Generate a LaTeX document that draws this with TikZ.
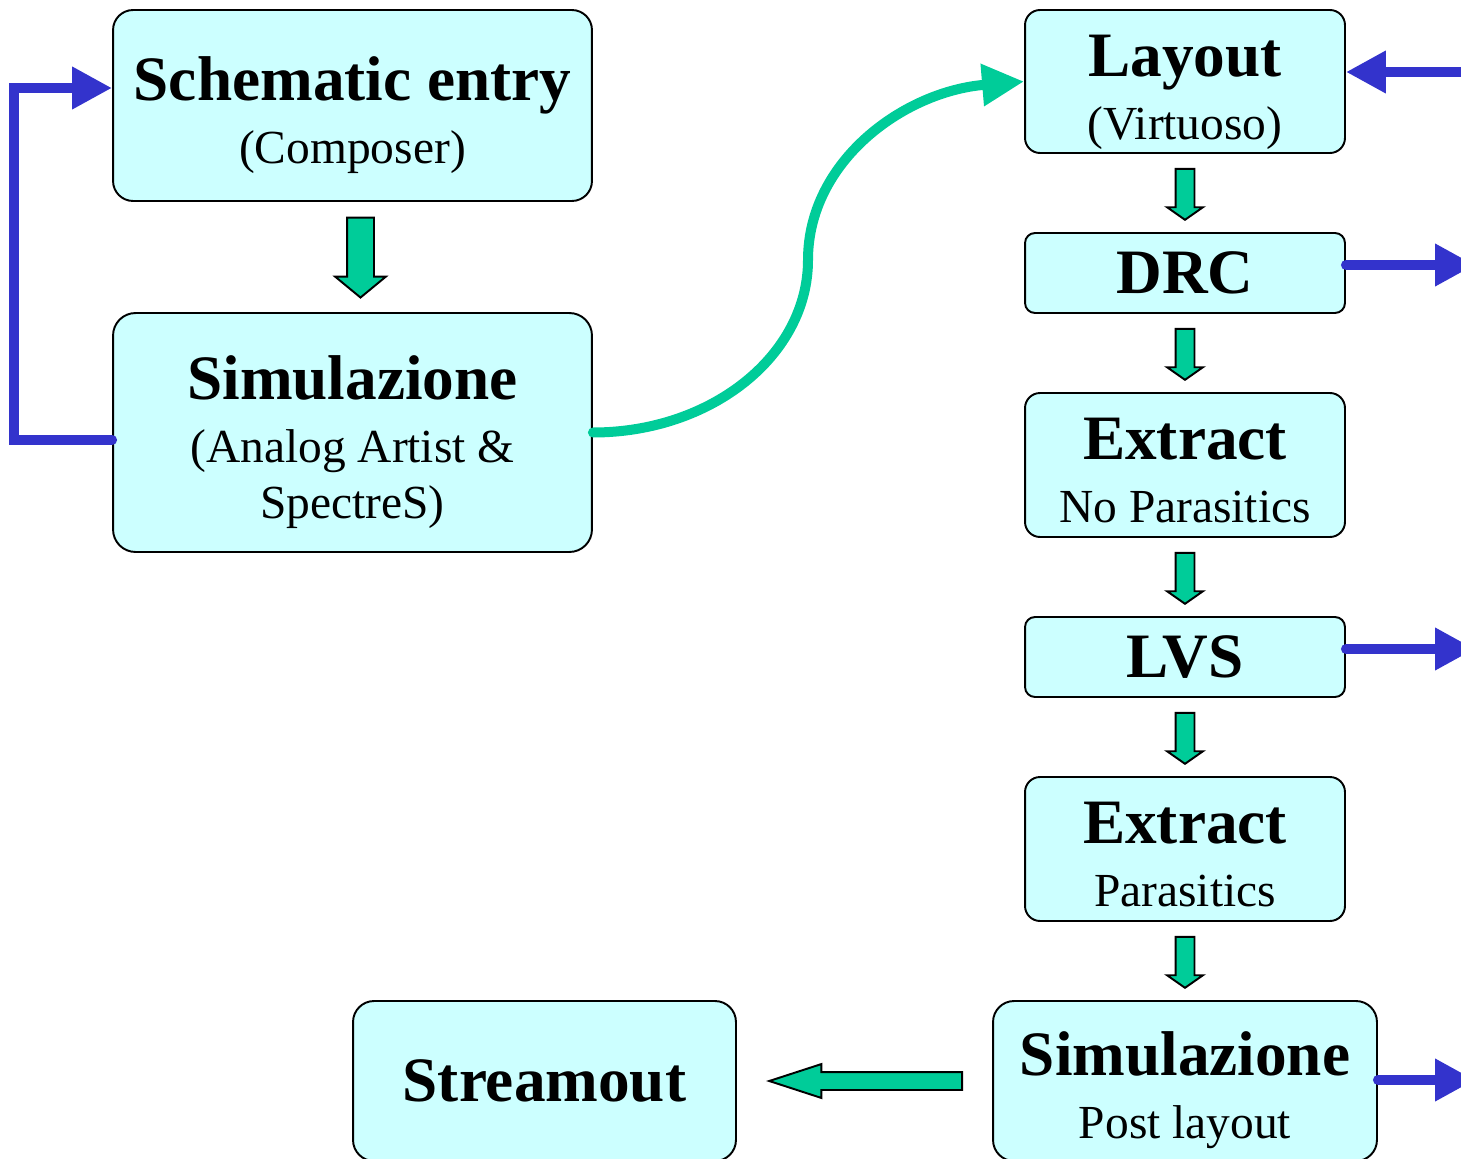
\documentclass[tikz,border=0pt]{standalone}
\usepackage{fontspec}
\setmainfont{Liberation Serif}
\usepackage{xcolor}
\usetikzlibrary{arrows.meta,calc,shapes.arrows}

\definecolor{boxcyan}{HTML}{CCFFFF}
\definecolor{flowgreen}{HTML}{00CC99}
\definecolor{loopblue}{HTML}{3333CC}

\newcommand{\ttl}[1]{{\fontsize{36}{40}\selectfont\bfseries\rule{0pt}{36pt}#1}}
\newcommand{\dsc}{\rule[-6pt]{0pt}{6pt}}

\tikzset{
  stage/.style={draw=black, line width=1.1pt, fill=boxcyan, align=center,
    inner sep=0pt, font=\fontsize{27}{32}\selectfont},
  flowarr/.style={single arrow, draw=black, line width=1.1pt, fill=flowgreen,
    inner sep=0pt},
  flowsmall/.style={flowarr, rotate=-90, minimum height=1.02cm, inner ysep=0.17cm,
    single arrow head extend=0.17cm, single arrow tip angle=110},
  fbline/.style={loopblue, line width=0.2cm, line cap=round,
    -{Triangle[length=0.8cm,width=0.8cm]}},
}

\begin{document}
\begin{tikzpicture}[x=0.02cm,y=-0.02cm]
\useasboundingbox (0,0) rectangle (1461,1159);
\clip (0,0) rectangle (1461,1159);

% left column
\node[stage, minimum width=9.58cm, minimum height=3.82cm, rounded corners=0.4cm] (sch) at (352.5,105.5)
  {\ttl{Schematic entry}\\[4pt] (Composer)\dsc};
\node[stage, minimum width=9.58cm, minimum height=4.78cm, rounded corners=0.45cm] (sim) at (352.5,432.5)
  {\ttl{Simulazione}\\[4pt] (Analog Artist \&\\ SpectreS)\dsc};

% right column
\node[stage, minimum width=6.4cm, minimum height=2.86cm, rounded corners=0.3cm] (lay) at (1185,81.5)
  {\ttl{Layout}\\[4pt] (Virtuoso)\dsc};
\node[stage, minimum width=6.4cm, minimum height=1.6cm, rounded corners=0.2cm] (drc) at (1185,273)
  {\fontsize{36}{40}\selectfont\bfseries DRC};
\node[stage, minimum width=6.4cm, minimum height=2.88cm, rounded corners=0.3cm] (ext1) at (1185,465)
  {\ttl{Extract}\\[4pt] No Parasitics\dsc};
\node[stage, minimum width=6.4cm, minimum height=1.6cm, rounded corners=0.2cm] (lvs) at (1185,657)
  {\fontsize{36}{40}\selectfont\bfseries LVS};
\node[stage, minimum width=6.4cm, minimum height=2.88cm, rounded corners=0.3cm] (ext2) at (1185,849)
  {\ttl{Extract}\\[4pt] Parasitics\dsc};
\node[stage, minimum width=7.68cm, minimum height=3.2cm, rounded corners=0.42cm] (spost) at (1185,1081)
  {\ttl{Simulazione}\\[4pt] Post layout\dsc};
\node[stage, minimum width=7.66cm, minimum height=3.2cm, rounded corners=0.42cm] (strm) at (544.5,1081)
  {\fontsize{36}{40}\selectfont\bfseries Streamout};

% green block arrows
\node[flowarr, rotate=-90, minimum height=1.6cm, inner ysep=0.25cm,
  single arrow head extend=0.24cm, single arrow tip angle=101]
  (a0) at ($(sch.south)!.5!(sim.north)+(8,-5)$) {};
\node[flowsmall] (a1) at ($(lay.south)!.5!(drc.north)+(0,-2)$) {};
\node[flowsmall] (a2) at ($(drc.south)!.5!(ext1.north)+(0,-2)$) {};
\node[flowsmall] (a3) at ($(ext1.south)!.5!(lvs.north)+(0,-2)$) {};
\node[flowsmall] (a4) at ($(lvs.south)!.5!(ext2.north)+(0,-2)$) {};
\node[flowsmall] (a5) at ($(ext2.south)!.5!(spost.north)+(0,-2)$) {};
\node[flowarr, rotate=180, minimum height=3.86cm, inner ysep=0.16cm,
  single arrow head extend=0.16cm, single arrow tip angle=36]
  (a6) at ($(strm.east)!.5!(spost.west)+(15,0)$) {};

% green curve
\coordinate (bend) at (808,260);
\draw[flowgreen, line width=0.2cm, line cap=round, -{Triangle[length=0.84cm,width=0.8cm]}]
  (sim.east) .. controls +(119,0) and +(0,95) .. (bend)
  .. controls +(0,-99) and +(-120,10) .. (lay.west);

% blue feedback and outputs
\draw[fbline] ($(sim.west)+(0,7.5)$) -- ++(-98,0) |- ($(sch.west)+(0,-17.5)$);
\coordinate (layin) at (1475,72);
\coordinate (drcout) at (1475,265);
\coordinate (lvsout) at (1475,649);
\coordinate (spout) at (1475,1080);
\draw[fbline] (layin) -- (layin -| lay.east);
\draw[fbline] (drcout -| drc.east) -- (drcout);
\draw[fbline] (lvsout -| lvs.east) -- (lvsout);
\draw[fbline] (spout -| spost.east) -- (spout);
\end{tikzpicture}
\end{document}
